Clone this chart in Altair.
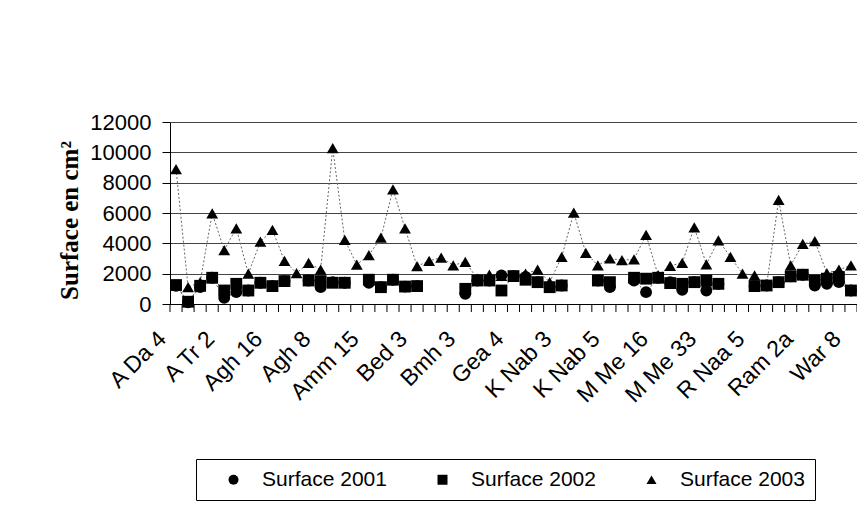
import altair as alt
import pandas as pd

categories = [
    "A Da 4", "A Da 5", "A Da 7", "A Tr 1", "A Tr 2", "A Tr 3", "Agh 1", "Agh 12",
    "Agh 16", "Agh 2", "Agh 4", "Agh 7", "Agh 8", "Amm 10", "Amm 12", "Amm 14",
    "Amm 15", "Amm 3", "Amm 7", "Bed 1", "Bed 3", "Bed 5", "Bmh 1", "Bmh 2",
    "Bmh 3", "Bmh 6", "Gea 1", "Gea 2", "Gea 4", "Gea 6", "K Nab 1", "K Nab 2",
    "K Nab 3", "K Nab 4", "K Nab 4a", "K Nab 4b", "K Nab 5", "K Nab 6", "M Me 1", "M Me 12",
    "M Me 16", "M Me 2", "M Me 25", "M Me 31", "M Me 33", "M Me 5", "R Naa 1", "R Naa 3",
    "R Naa 5", "R Naa 7", "Ram 1", "Ram 2", "Ram 2a", "Ram 4", "War 2", "War 5",
    "War 8",
]

surface_2001 = [
    1200, 110, 1110, 1730, 400, 780, 890, 1400, 1180, 1510,
    None, 1550, 1110, 1440, 1400, None, 1400, 1110, 1600, 1150,
    1180, None, None, None, 670, 1550, 1550, 1890, 1840, 1780,
    1440, 1110, 1220, None, None, 1550, 1110, None, 1550, 780,
    1730, 1440, 930, 1440, 890, 1330, None, None, 1180, 1220,
    1440, 1820, 1930, 1220, 1330, 1440, 890,
]

surface_2002 = [
    1250, 150, 1200, 1730, 890, 1330, 890, 1400, 1180, 1510,
    None, 1550, 1510, 1400, 1400, None, 1600, 1110, 1600, 1150,
    1180, None, None, None, 1000, 1550, 1550, 890, 1840, 1600,
    1440, 1110, 1220, None, None, 1550, 1440, None, 1730, 1670,
    1730, 1380, 1330, 1440, 1550, 1330, None, None, 1180, 1220,
    1440, 1820, 1930, 1550, 1670, 1780, 890,
]

surface_2003 = [
    8900, 1110, 1440, 5980, 3560, 4990, 2000, 4110, 4880, 2840,
    2040, 2710, 2260, 10270, 4220, 2600, 3220, 4370, 7560, 4990,
    2490, 2840, 3060, 2550, 2780, 1670, 1930, 1850, 1900, 2000,
    2260, 1440, 3110, 6020, 3370, 2550, 3000, 2890, 2950, 4550,
    1900, 2520, 2710, 5060, 2620, 4200, 3110, 2000, 1890, 1250,
    6860, 2550, 3960, 4150, 2040, 2260, 2550,
]

series_names = ["Surface 2001", "Surface 2002", "Surface 2003"]
series_values = [surface_2001, surface_2002, surface_2003]
label_step = 4
y_ticks = [0, 2000, 4000, 6000, 8000, 10000, 12000]

rows = []
for name, vals in zip(series_names, series_values):
    for i, v in enumerate(vals):
        rows.append({"idx": i, "cat": categories[i], "series": name, "value": v})
df = pd.DataFrame(rows)

n = len(categories)
label_idx = list(range(0, n, label_step))
tick_df = pd.DataFrame({"b": [i - 0.5 for i in range(n + 1)]})

W, H = 687, 182
label_expr = "[" + ",".join("'" + c + "'" for c in categories) + "][datum.value]"

xscale = alt.Scale(domain=[-0.5, n - 0.5], nice=False, zero=False)
yscale = alt.Scale(domain=[0, 12000], nice=False)

x_axis = alt.Axis(
    values=label_idx, labelExpr=label_expr, labelAngle=-45, labelAlign="right",
    labelBaseline="middle", labelOffset=-14, labelPadding=31, ticks=False,
    grid=False, domainColor="black", labelFont="Liberation Sans", labelFontSize=23,
    labelColor="black", title=None, labelOverlap=False,
)

y_axis = alt.Axis(
    values=y_ticks, format="d", labelOverlap=False, tickSize=8, tickColor="black",
    domainColor="black", gridColor="#444444", gridWidth=1,
    labelFont="Liberation Sans", labelFontSize=22, labelColor="black", labelPadding=11,
    title="Surface en cm²", titleFont="Liberation Serif", titleFontSize=25,
    titleFontWeight="bold", titleColor="black", titlePadding=7, titleY=98,
)

x_enc = alt.X("idx:Q", scale=xscale, axis=x_axis)
y_enc = alt.Y("value:Q", scale=yscale, axis=y_axis)

lines = alt.Chart(df).mark_line(color="#666666", strokeWidth=1, strokeDash=[2, 2]).encode(
    x=x_enc, y=y_enc, detail="series:N"
)

points = alt.Chart(df).mark_point(filled=True, color="black", size=140, opacity=1).encode(
    x=x_enc,
    y=y_enc,
    shape=alt.Shape(
        "series:N",
        scale=alt.Scale(domain=series_names, range=["circle", "square", "triangle-up"]),
        legend=alt.Legend(
            orient="none", legendX=26, legendY=337, direction="horizontal",
            title=" ", titleOrient="left", titleFontSize=21, titlePadding=17,
            strokeColor="black", padding=10, labelFont="Liberation Sans",
            labelFontSize=21, labelColor="black", symbolSize=100,
            symbolFillColor="black", symbolStrokeColor="black",
            labelOffset=18, columnPadding=45,
        ),
    ),
    order=alt.Order("series:N"),
)

ticks = alt.Chart(tick_df).mark_rule(color="black", strokeWidth=1).encode(
    x=alt.X("b:Q", scale=xscale, axis=x_axis),
    y=alt.value(H),
    y2=alt.value(H + 8),
)

chart = alt.layer(lines, ticks, points).properties(
    width=W, height=H,
    padding={"left": 170, "top": 122, "right": 0, "bottom": 210},
    autosize=alt.AutoSizeParams(type="none"),
    background="white",
).configure_view(stroke=None)

chart.save("out.html", embed_options={"renderer": "svg", "actions": False})
